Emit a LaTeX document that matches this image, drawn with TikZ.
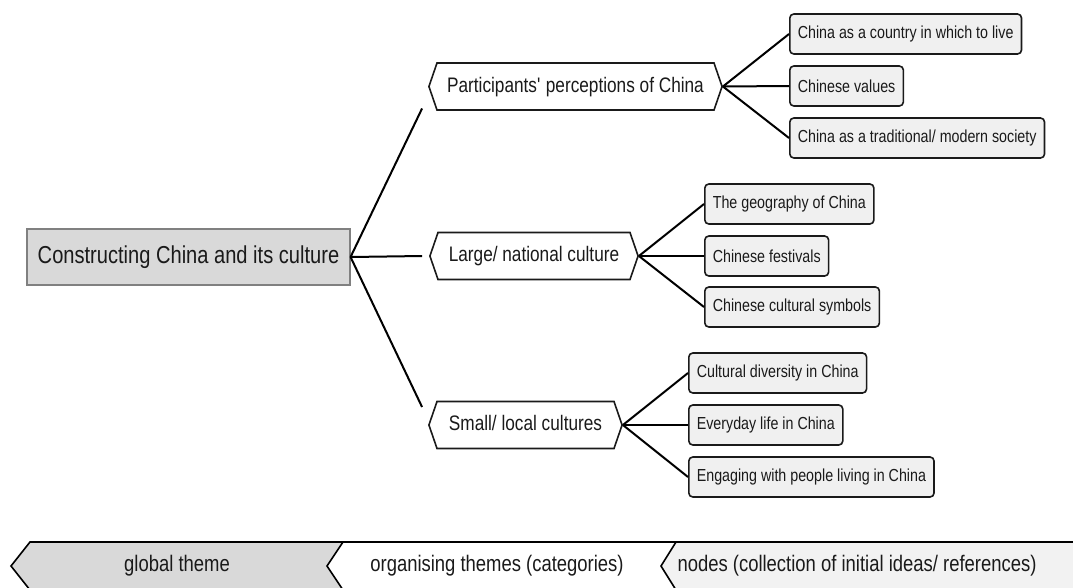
\documentclass[tikz,border=0pt]{standalone}
\usepackage{fontspec}
\setmainfont{Liberation Sans}[FakeStretch=0.82]
\usetikzlibrary{shapes.symbols,calc}

\definecolor{globalfill}{HTML}{D9D9D9}
\definecolor{leaffill}{HTML}{F0F0F0}
\definecolor{keyfill}{HTML}{F2F2F2}
\definecolor{edgegray}{HTML}{808080}
\definecolor{ink}{HTML}{1A1A1A}

% fixed-width label for the organising themes
\newcommand{\themelabel}[2]{\makebox[#1][c]{#2}}

\begin{document}
\begin{tikzpicture}[x=1pt,y=-1pt,
  globalbox/.style={draw=edgegray, line width=1.1pt, fill=globalfill,
    minimum width=323pt, minimum height=56pt, inner sep=0pt,
    font=\fontsize{24.5}{28}\selectfont, text=ink},
  themebox/.style={shape=signal, signal to=west and east,
    signal pointer angle=142, draw=ink, line width=1.6pt, fill=white,
    inner xsep=0pt, inner ysep=14pt, text height=15pt, text depth=4pt,
    font=\fontsize{21}{24}\selectfont, text=ink},
  leafbox/.style={draw=ink, line width=1.6pt, fill=leaffill,
    rounded corners=4pt, anchor=west, minimum height=40pt,
    inner xsep=8pt, inner ysep=0pt,
    font=\fontsize{17.4}{20}\selectfont, text=ink},
  link/.style={line width=2pt, draw=black},
  keyline/.style={line width=1.6pt, draw=black, line join=miter},
  keytext/.style={font=\fontsize{22.5}{26}\selectfont, text=ink, inner sep=0pt}
]
\useasboundingbox (0,0) rectangle (1073,587);

% global theme
\node[globalbox] (G) at (188.5,257) {Constructing China and its culture};

% organising themes
\node[themebox] (P) at (575.5,86.5) {\themelabel{277pt}{Participants\textquotesingle{} perceptions of China}};
\node[themebox] (L) at (534,256) {\themelabel{192pt}{Large/ national culture}};
\node[themebox] (S) at (525.5,425) {\themelabel{177pt}{Small/ local cultures}};

% loose ends of the links from the global theme
\coordinate (Pin) at ($(P.west)+(-6,22)$);
\coordinate (Lin) at ($(L.west)+(-7,0)$);
\coordinate (Sin) at ($(S.west)+(-6,-18)$);

\draw[link] (G.east) -- (Pin);
\draw[link] (G.east) -- (Lin);
\draw[link] (G.east) -- (Sin);

% basic nodes
\node[leafbox] (t1) at (789,34)  {China as a country in which to live};
\node[leafbox] (t2) at (789,86)  {Chinese values};
\node[leafbox] (t3) at (789,138) {China as a traditional/ modern society};

\node[leafbox] (m1) at (704,204) {The geography of China};
\node[leafbox] (m2) at (704,256) {Chinese festivals};
\node[leafbox] (m3) at (704,307) {Chinese cultural symbols};

\node[leafbox] (b1) at (688,373) {Cultural diversity in China};
\node[leafbox] (b2) at (688,425) {Everyday life in China};
\node[leafbox] (b3) at (688,477) {Engaging with people living in China};

\foreach \leaf in {t1,t2,t3} \draw[link] (P.east) -- (\leaf.west);
\foreach \leaf in {m1,m2,m3} \draw[link] (L.east) -- (\leaf.west);
\foreach \leaf in {b1,b2,b3} \draw[link] (S.east) -- (\leaf.west);

% key strip
\fill[globalfill] (30,542) -- (343,542) -- (327,566) -- (343,590) -- (30,590) -- (11,566) -- cycle;
\fill[keyfill] (676,542) -- (1073,542) -- (1073,590) -- (676,590) -- (661,566) -- cycle;
\draw[keyline] (30,590) -- (11,566) -- (30,542) -- (1073,542);
\draw[keyline] (343,542) -- (327,566) -- (343,590);
\draw[keyline] (676,542) -- (661,566) -- (676,590);

\node[keytext] (k1) at (177,566) {global theme};
\node[keytext] (k2) at (497,566) {organising themes (categories)};
\node[keytext] (k3) at (857,566) {nodes (collection of initial ideas/ references)};
\end{tikzpicture}
\end{document}
